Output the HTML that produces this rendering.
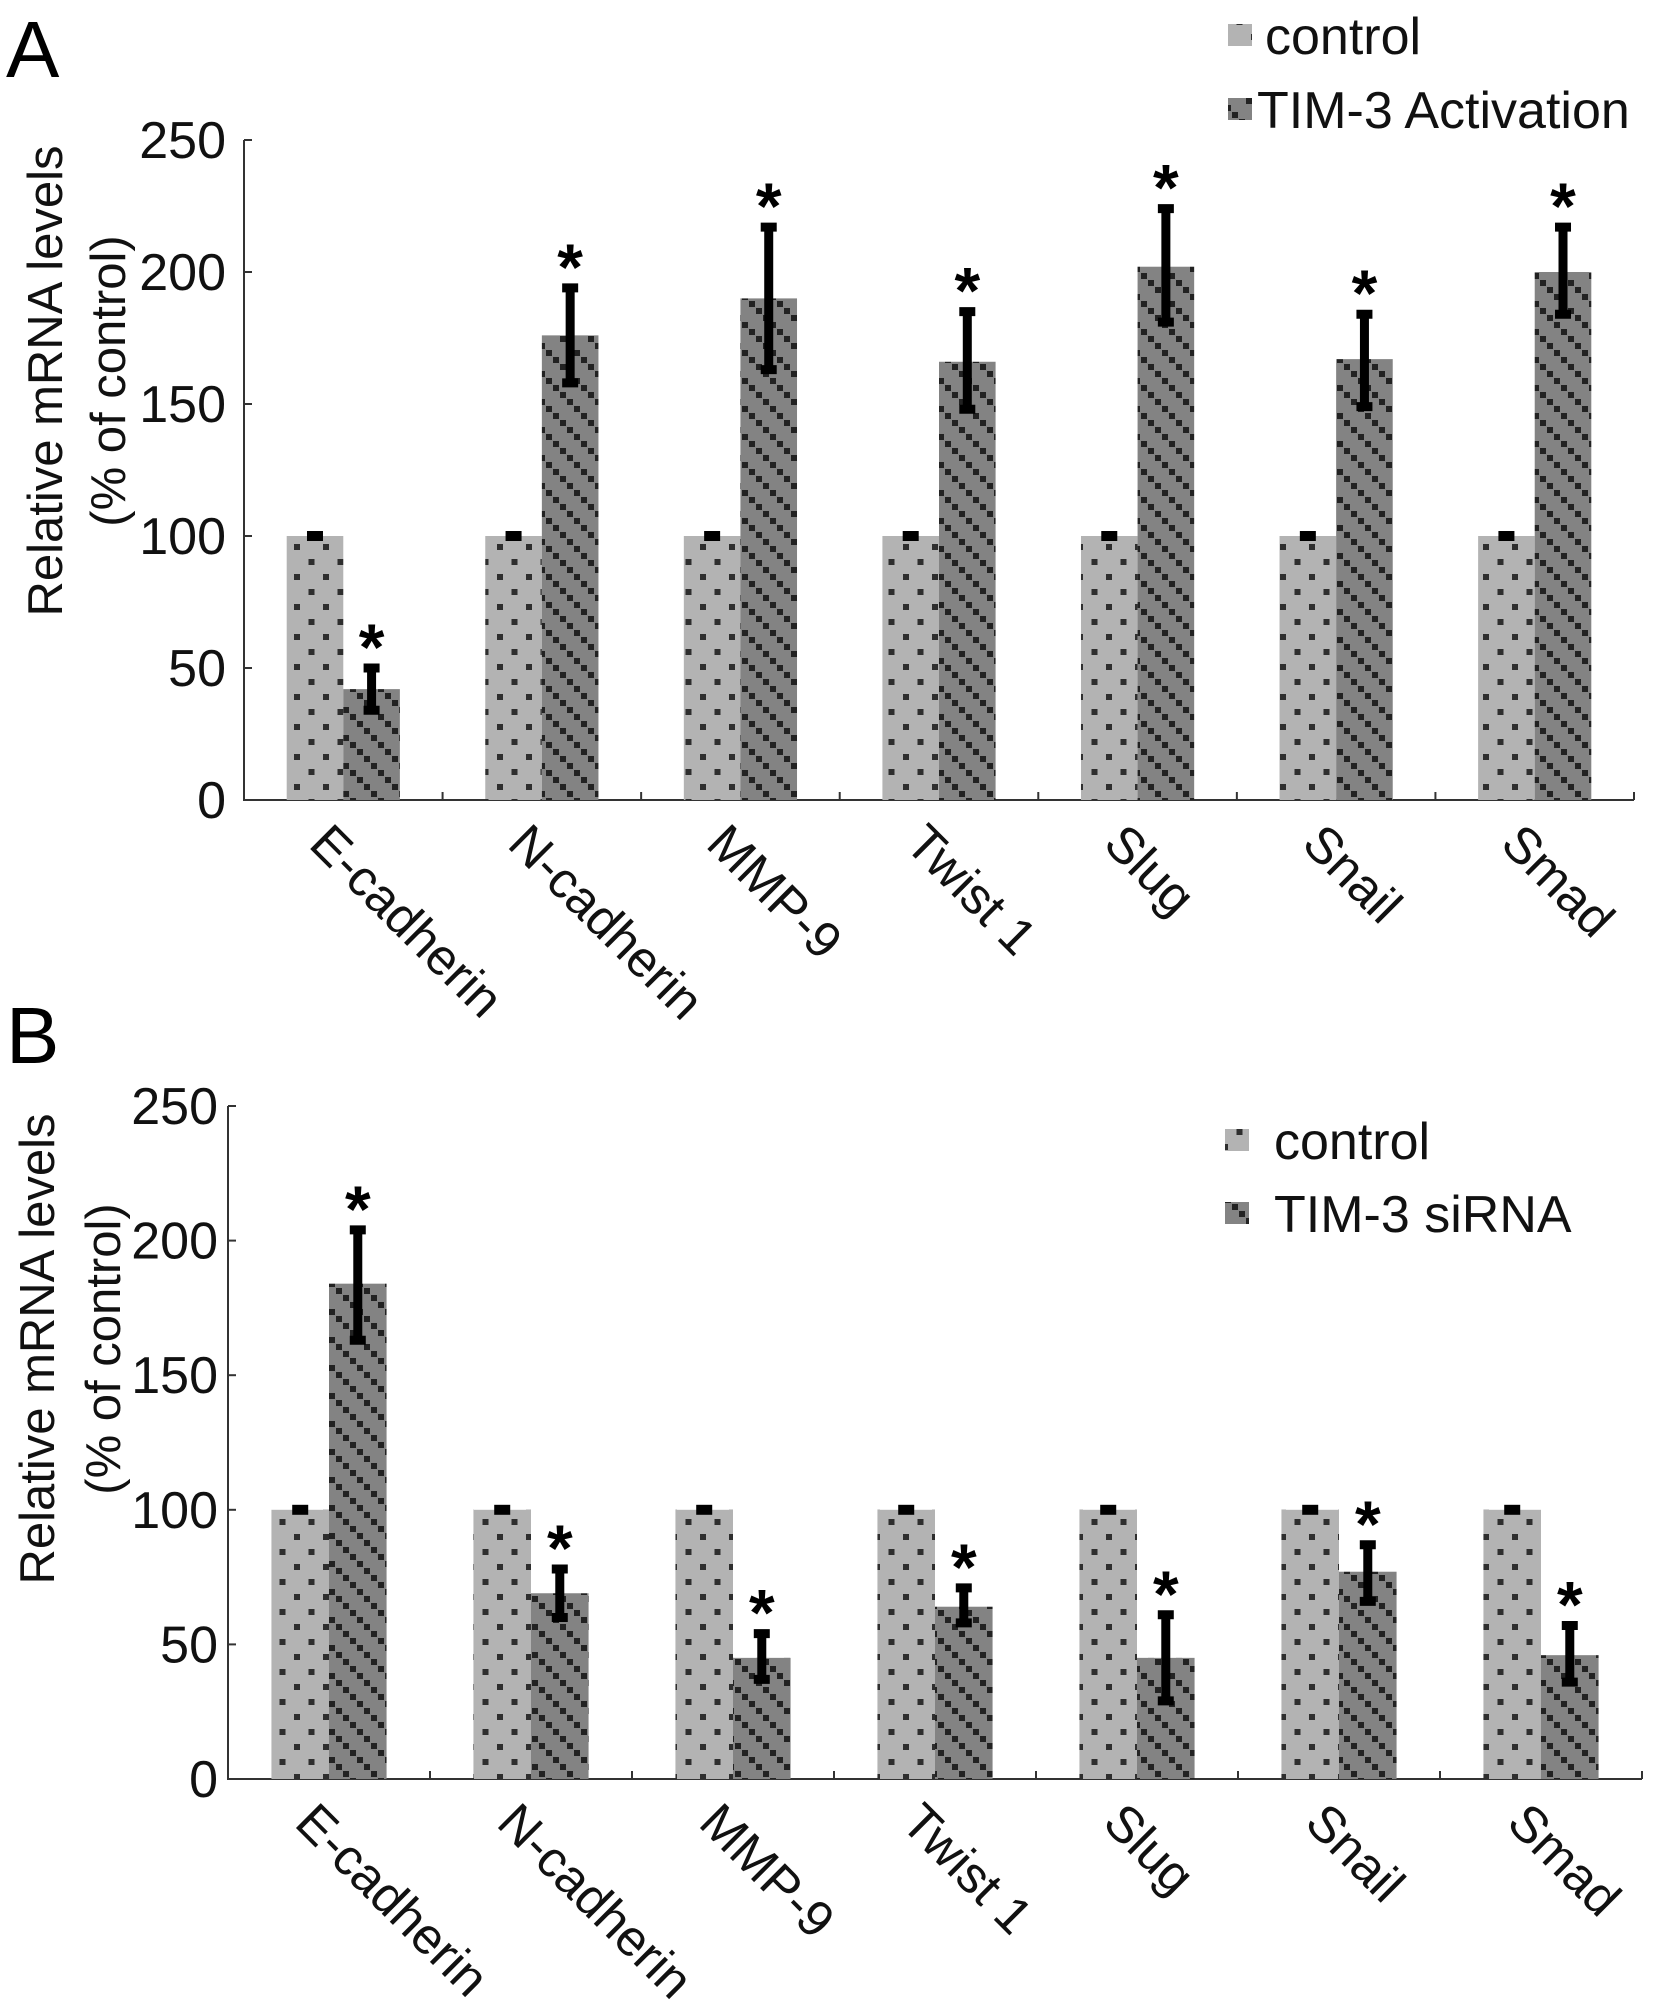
<!DOCTYPE html>
<html><head><meta charset="utf-8"><style>
html,body{margin:0;padding:0;background:#fff;}
svg{display:block;font-family:"Liberation Sans",sans-serif;}
</style></head><body>
<svg id="fig" width="1654" height="2011" viewBox="0 0 1654 2011" xmlns="http://www.w3.org/2000/svg">
<defs>
<pattern id="pCtrl" width="29" height="30" patternUnits="userSpaceOnUse">
<rect width="29" height="30" fill="#b3b3b3"/>
<rect x="4" y="4" width="6" height="6" fill="#2e2e2e"/>
<rect x="18.5" y="19" width="6" height="6" fill="#2e2e2e"/>
</pattern>
<pattern id="pTrt" width="28" height="28" patternUnits="userSpaceOnUse">
<rect width="28" height="28" fill="#838383"/>
<rect x="0" y="0" width="6" height="6" fill="#222"/>
<rect x="7" y="7" width="6" height="6" fill="#222"/>
<rect x="14" y="14" width="6" height="6" fill="#222"/>
<rect x="21" y="21" width="6" height="6" fill="#222"/>
</pattern>
</defs>
<g id="panelA"></g>
<g id="panelB"></g>
</svg>
<script>
const categories = ["E-cadherin","N-cadherin","MMP-9","Twist 1","Slug","Snail","Smad"];
const yTicks = [0,50,100,150,200,250];
const ctrlA = [100,100,100,100,100,100,100];
const trtA = [42,176,190,166,202,167,200];
const trtAHi = [50,194,217,185,224,184,217];
const trtALo = [34,158,163,148,181,149,184];
const ctrlB = [100,100,100,100,100,100,100];
const trtB = [184,69,45,64,45,77,46];
const trtBHi = [204,78,54,71,61,87,57];
const trtBLo = [163,60,37,58,29,66,36];
const legendA = ["control","TIM-3 Activation"];
const legendB = ["control","TIM-3 siRNA"];

const NS="http://www.w3.org/2000/svg";
function mk(parent,tag,attrs,text){const e=document.createElementNS(NS,tag);for(const k in attrs)e.setAttribute(k,attrs[k]);if(text!==undefined)e.textContent=text;parent.appendChild(e);return e;}

function drawPanel(g,cfg){
  const {x0,x1,yTop,y0,ctrl,trt,hi,lo,legend,lx,ly,letter,letterY,titleX1,titleX2,titleCY,tickX}=cfg;
  const ymax=250;
  const Y=v=>y0-(v/ymax)*(y0-yTop);
  const gw=(x1-x0)/categories.length;
  const bw=gw*0.285;
  const X=i=>x0+gw*(i+0.5);
  const L=mk(g,'text',{x:6,y:letterY,'font-size':80});L.textContent=letter;
  
  
  const ax=mk(g,'path',{d:`M${x0} ${yTop}V${y0}H${x1}`,stroke:'#333',fill:'none','stroke-width':2});
  
  
  yTicks.forEach(t=>{
    mk(g,'line',{x1:x0,x2:x0+8,y1:Y(t),y2:Y(t),stroke:'#333','stroke-width':2});
    const tl=mk(g,'text',{x:tickX,y:Y(t)+18,'font-size':52,'text-anchor':'end',fill:'#111'},String(t));
    
    
  });
  for(let i=1;i<=categories.length;i++){mk(g,'line',{x1:x0+gw*i,x2:x0+gw*i,y1:y0,y2:y0-8,stroke:'#333','stroke-width':2});}
  const t1=mk(g,'text',{x:titleX1,y:titleCY,'font-size':49,'text-anchor':'middle',transform:`rotate(-90 ${titleX1} ${titleCY})`,fill:'#111'},'Relative mRNA levels');
  
  
  const t2=mk(g,'text',{x:titleX2,y:titleCY,'font-size':49,'text-anchor':'middle',transform:`rotate(-90 ${titleX2} ${titleCY})`,fill:'#111'},'(% of control)');
  
  
  categories.forEach((c,i)=>{
    const cx=X(i);
    const b1=mk(g,'rect',{x:cx-bw,y:Y(ctrl[i]),width:bw,height:y0-Y(ctrl[i]),fill:'url(#pCtrl)'});
    
    
    mk(g,'rect',{x:cx-bw/2-8,y:Y(ctrl[i])-5,width:16,height:10,fill:'#000'});
    const b2=mk(g,'rect',{x:cx,y:Y(trt[i]),width:bw,height:y0-Y(trt[i]),fill:'url(#pTrt)'});
    
    
    const ex=cx+bw/2;
    const eb=mk(g,'path',{d:`M${ex} ${Y(hi[i])}V${Y(lo[i])}M${ex-8} ${Y(hi[i])}H${ex+8}M${ex-8} ${Y(lo[i])}H${ex+8}`,stroke:'#000','stroke-width':9,fill:'none'});
    
    
    const st=mk(g,'text',{x:ex,y:Y(hi[i])+2,'font-size':66,'font-weight':'bold','text-anchor':'middle'},'*');
    
    
    const xl=mk(g,'text',{x:cx-36,y:y0+46,'font-size':51,transform:`rotate(45 ${cx-36} ${y0+46})`,fill:'#111'},c);
    
    
  });
  legend.forEach((s,k)=>{
    const yy=ly+k*cfg.lstep;
    const sw=mk(g,'rect',{x:lx,y:yy-30,width:24,height:22,fill:k?'url(#pTrt)':'url(#pCtrl)'});
    
    
    const lt=mk(g,'text',{x:lx+(k===0?cfg.lt0:cfg.lt1),y:yy,'font-size':52,fill:'#111'},s);
    
    
  });
}
drawPanel(document.getElementById('panelA'),{x0:244,x1:1634,yTop:140,y0:800,ctrl:ctrlA,trt:trtA,hi:trtAHi,lo:trtALo,legend:legendA,lx:1228,ly:54,lstep:74,lt0:37,lt1:29,letter:'A',letterY:77,titleX1:62,titleX2:125,titleCY:381,tickX:226});
drawPanel(document.getElementById('panelB'),{x0:228,x1:1642,yTop:1106,y0:1779,ctrl:ctrlB,trt:trtB,hi:trtBHi,lo:trtBLo,legend:legendB,lx:1225,ly:1159,lstep:73,lt0:49,lt1:49,letter:'B',letterY:1063,titleX1:54,titleX2:120,titleCY:1349,tickX:218});
</script>
</body></html>
